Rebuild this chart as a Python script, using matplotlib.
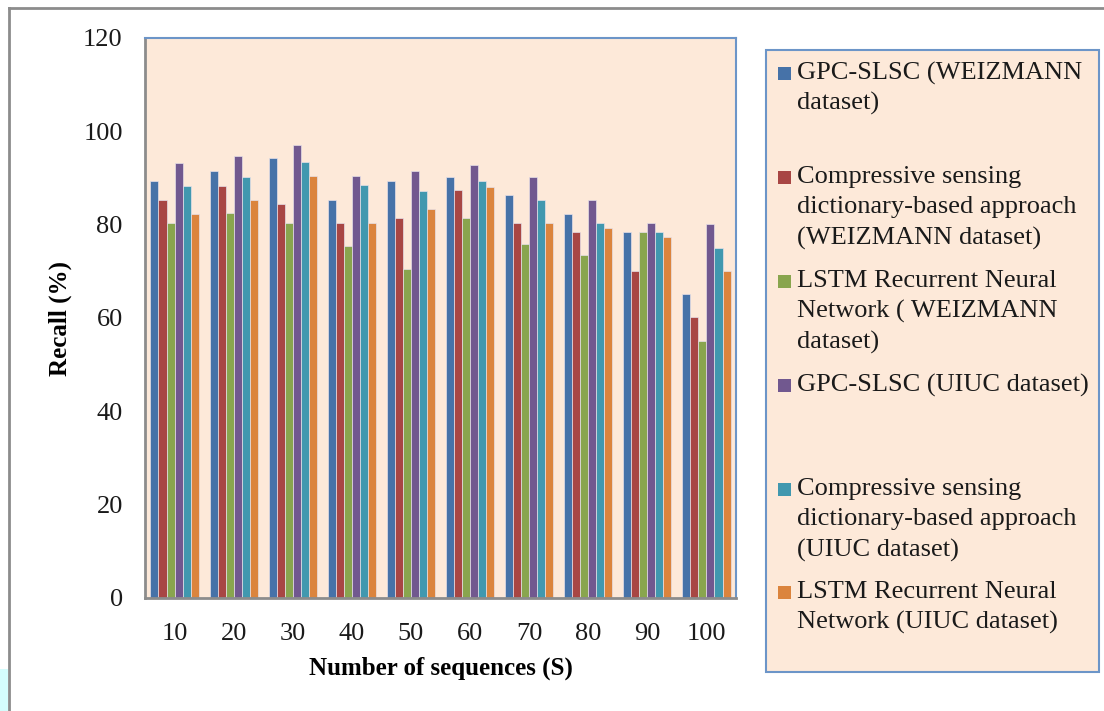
import matplotlib.pyplot as plt
import matplotlib.patches as mpatches
import numpy as np

# x categories: number of sequences
sequences = [10, 20, 30, 40, 50, 60, 70, 80, 90, 100]

# recall (%) for each method
gpc_weiz = [89.4, 91.5, 94.3, 85.3, 89.4, 90.2, 86.4, 82.3, 78.4, 65.2]
cs_weiz = [85.3, 88.3, 84.5, 80.4, 81.4, 87.5, 80.4, 78.4, 70.1, 60.3]
lstm_weiz = [80.4, 82.5, 80.4, 75.4, 70.4, 81.4, 75.9, 73.5, 78.4, 55.1]
gpc_uiuc = [93.3, 94.7, 97.0, 90.5, 91.6, 92.7, 90.2, 85.3, 80.4, 80.1]
cs_uiuc = [88.3, 90.2, 93.5, 88.6, 87.2, 89.4, 85.3, 80.4, 78.4, 75.1]
lstm_uiuc = [82.3, 85.3, 90.5, 80.4, 83.4, 88.1, 80.4, 79.3, 77.4, 70.1]

series_labels = [
    "GPC-SLSC (WEIZMANN\ndataset)",
    "Compressive sensing\ndictionary-based approach\n(WEIZMANN dataset)",
    "LSTM Recurrent Neural\nNetwork ( WEIZMANN\ndataset)",
    "GPC-SLSC (UIUC dataset)",
    "Compressive sensing\ndictionary-based approach\n(UIUC dataset)",
    "LSTM Recurrent Neural\nNetwork (UIUC dataset)",
]
series_values = [gpc_weiz, cs_weiz, lstm_weiz, gpc_uiuc, cs_uiuc, lstm_uiuc]

COLORS = ['#4672A8', '#A84644', '#89A54E', '#71588F', '#4198AF', '#DB843D']
FONT = 'Liberation Serif'
W, H = 1104, 711

fig = plt.figure(figsize=(W / 100, H / 100), dpi=100)
fig.patch.set_facecolor('white')

# outer chart frame (top and left edges visible) and the cyan scrap at bottom-left
fig.add_artist(plt.Line2D([9 / W, 1], [1 - 8 / H, 1 - 8 / H], color='#8C8C8C', lw=2, transform=fig.transFigure))
fig.add_artist(plt.Line2D([9 / W, 9 / W], [0, 1 - 8 / H], color='#8C8C8C', lw=2, transform=fig.transFigure))
fig.add_artist(mpatches.Rectangle((0, 0), 8 / W, 42 / H, transform=fig.transFigure,
                                  facecolor='#D4FCFC', edgecolor='none'))

ax = fig.add_axes([145 / W, (H - 598) / H, 591 / W, (598 - 38) / H])
ax.set_facecolor('#FDE9D9')

x = np.arange(len(sequences))
n = len(series_values)
bw = 0.136
for i, (vals, col) in enumerate(zip(series_values, COLORS)):
    ax.bar(x + (i - (n - 1) / 2) * bw, vals, width=bw, color=col,
           edgecolor='#E6E0E8', linewidth=0.5, zorder=2)

ax.set_xlim(-0.5, len(sequences) - 0.5)
ax.set_ylim(0, 120)
ax.set_yticks(range(0, 121, 20))
ax.set_xticks(x)
ax.set_xticklabels([str(s) for s in sequences])
ax.tick_params(axis='both', length=0, labelsize=19)
ax.tick_params(axis='y', pad=16)
ax.tick_params(axis='x', pad=18)
for lab in ax.get_xticklabels() + ax.get_yticklabels():
    lab.set_fontfamily(FONT)
    lab.set_color('#1A1A1A')

for side in ['top', 'right']:
    ax.spines[side].set_color('#6C95C8')
    ax.spines[side].set_linewidth(1.5)
for side in ['left', 'bottom']:
    ax.spines[side].set_color('#8C8C8C')
    ax.spines[side].set_linewidth(2)

fig.text(60 / W, 1 - 318 / H, 'Recall (%)', rotation=90, ha='center', va='center',
         fontsize=18, fontweight='bold', family=FONT)
fig.text(441 / W, 1 - 668 / H, 'Number of sequences (S)', ha='center', va='center',
         fontsize=18, fontweight='bold', family=FONT)

# legend box, drawn by hand to keep Excel's uneven spacing
fig.add_artist(mpatches.Rectangle((766 / W, 1 - 672 / H), (1099 - 766) / W, (672 - 50) / H,
                                  transform=fig.transFigure, facecolor='#FDE9D9',
                                  edgecolor='#6C95C8', linewidth=1.5))
entry_tops = [73, 177, 281, 385, 489, 592]
for label, col, y0 in zip(series_labels, COLORS, entry_tops):
    fig.add_artist(mpatches.Rectangle((778 / W, 1 - (y0 + 7) / H), 13 / W, 13 / H,
                                      transform=fig.transFigure, facecolor=col, edgecolor='none'))
    for j, line in enumerate(label.split('\n')):
        fig.text(797 / W, 1 - (y0 + 30.5 * j) / H, line, ha='left', va='center',
                 fontsize=19, family=FONT, color='#1A1A1A')

fig.savefig('out.png', dpi=100)
